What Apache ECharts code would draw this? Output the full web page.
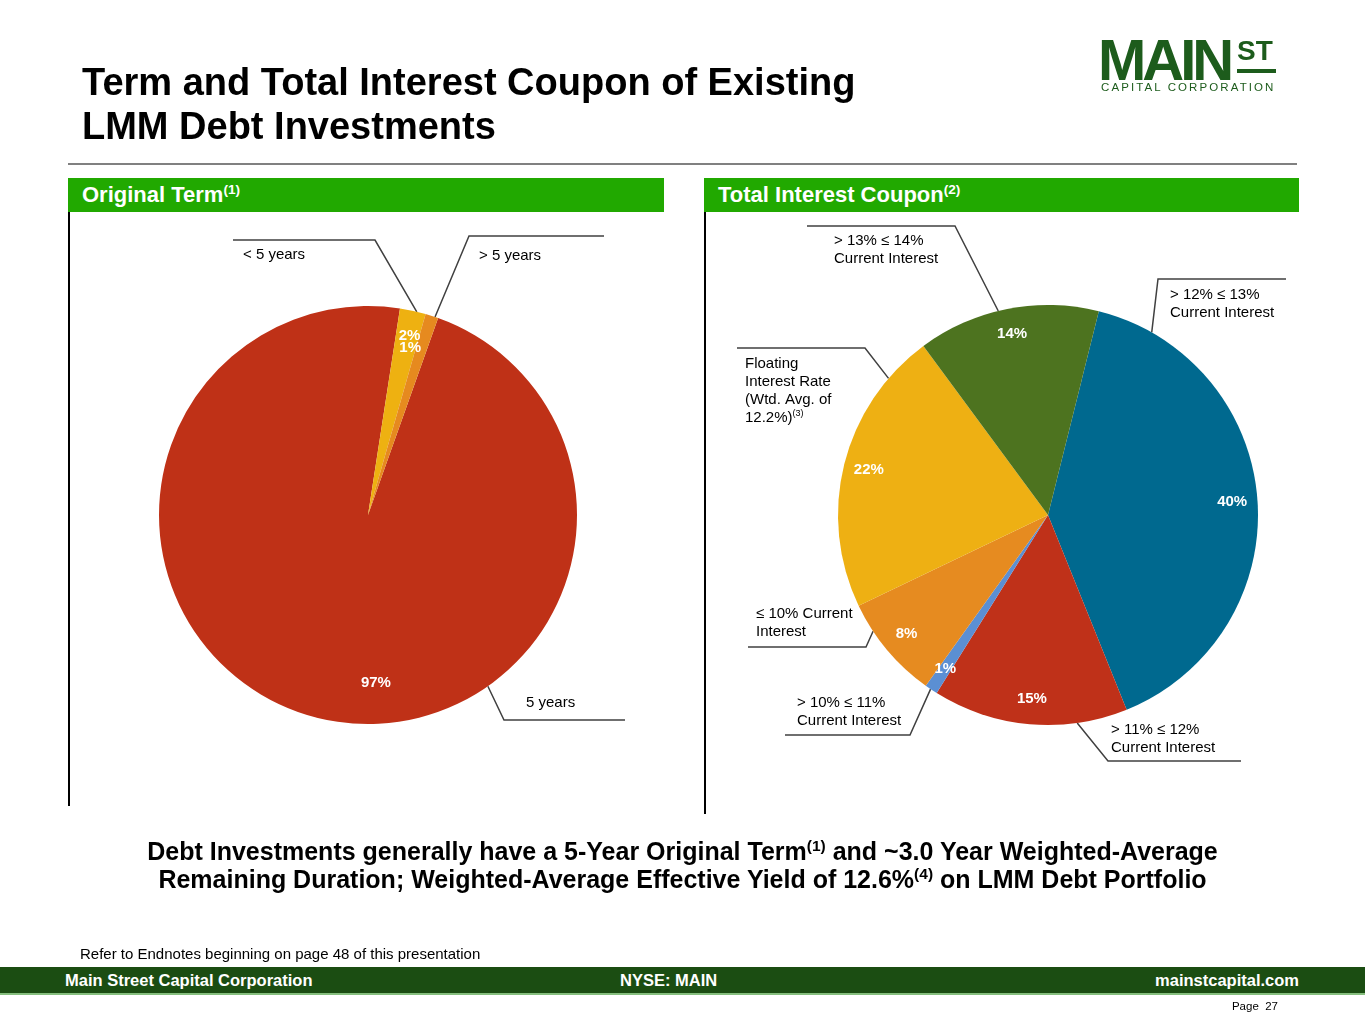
<!DOCTYPE html>
<html>
<head>
<meta charset="utf-8">
<script src="https://cdn.jsdelivr.net/npm/echarts@6/dist/echarts.min.js"></script>
<style>
  body { margin: 0; background: #fff; font-family: 'Liberation Sans', Arial, sans-serif; }
  #page { position: relative; width: 1365px; height: 1024px; overflow: hidden; }
  #chart { position: absolute; left: 0; top: 0; width: 1365px; height: 1024px; }
  .abs { position: absolute; white-space: nowrap; }
  sup { font-size: 62%; line-height: 0; vertical-align: 0.6em; }
  .title { left: 82px; top: 60px; font-size: 38px; line-height: 44px; font-weight: bold; color: #000; }
  .rule { left: 68px; top: 163px; width: 1229px; height: 2px; background: #808080; }
  .bar { top: 178px; height: 34px; background: #21a900; color: #fff; font-weight: bold; font-size: 22px;
         line-height: 34px; padding-left: 14px; box-sizing: border-box; }
  .vline { width: 2px; background: #000; top: 212px; }
  .summary { left: 0; width: 1365px; top: 837px; text-align: center; font-size: 25px; line-height: 28px;
             font-weight: bold; color: #000; }
  .note { left: 80px; top: 945px; font-size: 15px; line-height: 18px; color: #000; }
  .footer { left: 0; top: 967px; width: 1365px; height: 26px; background: #1b4d12; border-bottom: 2px solid #86bf7e; }
  .foot { top: 971px; font-size: 16.5px; line-height: 18px; font-weight: bold; color: #fff; }
  .page { right: 87px; top: 998px; font-size: 11.5px; line-height: 16px; color: #000; }
  .logo { color: #1d5c1c; font-weight: bold; }
</style>
</head>
<body>
<div id="page">
  <div id="chart"></div>

  <div class="abs title">Term and Total Interest Coupon of Existing<br>LMM Debt Investments</div>
  <div class="abs logo" style="left:1098px; top:28px; font-size:58px; line-height:64px; letter-spacing:-4px;">MAIN</div>
  <div class="abs logo" style="left:1237px; top:36px; font-size:28px; line-height:30px;">ST</div>
  <div class="abs" style="left:1237px; top:69px; width:39px; height:4px; background:#1d5c1c;"></div>
  <div class="abs logo" style="left:1101px; top:80px; font-size:11.5px; line-height:14px; font-weight:normal; letter-spacing:2.1px;">CAPITAL CORPORATION</div>
  <div class="abs rule"></div>

  <div class="abs bar" style="left:68px; width:596px;">Original Term<sup>(1)</sup></div>
  <div class="abs bar" style="left:704px; width:595px;">Total Interest Coupon<sup>(2)</sup></div>
  <div class="abs vline" style="left:68px; height:594px;"></div>
  <div class="abs vline" style="left:704px; height:602px;"></div>

  <div class="abs summary">Debt Investments generally have a 5-Year Original Term<sup>(1)</sup> and ~3.0 Year Weighted-Average<br>Remaining Duration; Weighted-Average Effective Yield of 12.6%<sup>(4)</sup> on LMM Debt Portfolio</div>

  <div class="abs note">Refer to Endnotes beginning on page 48 of this presentation</div>
  <div class="abs footer"></div>
  <div class="abs foot" style="left:65px;">Main Street Capital Corporation</div>
  <div class="abs foot" style="left:620px;">NYSE: MAIN</div>
  <div class="abs foot" style="right:66px;">mainstcapital.com</div>
  <div class="abs page">Page&nbsp; 27</div>
</div>

<script>
// original term
var termNames = ['5 years', '< 5 years', '> 5 years']
var termValues = [97, 2, 1]
var termColors = ['#bf3117', '#eeb111', '#e68a1f']

// total interest coupon
var couponNames = [
  '> 12% ≤ 13%\nCurrent Interest',
  '> 11% ≤ 12%\nCurrent Interest',
  '> 10% ≤ 11%\nCurrent Interest',
  '≤ 10% Current\nInterest',
  'Floating\nInterest Rate\n(Wtd. Avg. of\n12.2%)',
  '> 13% ≤ 14%\nCurrent Interest'
]
var couponNotes = ['', '', '', '', '(3)', '']
var couponValues = [40, 15, 1, 8, 22, 14]
var couponColors = ['#00698f', '#bf3119', '#5b8fd3', '#e68b20', '#eeb013', '#4d731f']

// layout of the two pies (pixels)
var termPie = { cx: 368, cy: 515, r: 209, start: 70.4 }
var couponPie = { cx: 1048, cy: 515, r: 210, start: 76 }

// leader lines: anchor angle on the rim (deg clockwise from top), elbow, end, text position
var termLeaders = [
  { a: 145, elbow: [504, 720], end: [625, 720], text: [526, 694] },
  { a: 13.5, elbow: [375, 240], end: [233, 240], text: [243, 246] },
  { a: 18.7, elbow: [469, 236], end: [604, 236], text: [479, 247] }
]
var couponLeaders = [
  { a: 29.6, elbow: [1158, 279], end: [1286, 279], text: [1170, 286] },
  { a: 172, elbow: [1108, 761], end: [1241, 761], text: [1111, 721] },
  { a: 214, elbow: [910, 735], end: [785, 735], text: [797, 694] },
  { a: 236.4, elbow: [866, 647], end: [748, 647], text: [756, 605] },
  { a: 310.6, elbow: [865, 348], end: [737, 348], text: [745, 355] },
  { a: 346.3, elbow: [955, 226], end: [807, 226], text: [834, 232] }
]
// nudges for the percentage labels on the term pie
var termPctShift = [[53, -10], [2, 0], [-14, 8]]

function rimPoint(pie, deg) {
  var t = deg * Math.PI / 180
  return [pie.cx + pie.r * Math.sin(t), pie.cy - pie.r * Math.cos(t)]
}

function leaderLayout(pie, leaders) {
  return function (params) {
    var l = leaders[params.dataIndex]
    return {
      x: l.text[0],
      y: l.text[1],
      align: 'left',
      verticalAlign: 'top',
      labelLinePoints: [rimPoint(pie, l.a), l.elbow, l.end]
    }
  }
}

function basePie(pie, names, values, colors, leaders, notes) {
  return {
    type: 'pie',
    center: [pie.cx, pie.cy],
    radius: [0, pie.r],
    startAngle: pie.start,
    clockwise: true,
    avoidLabelOverlap: false,
    silent: true,
    itemStyle: { borderWidth: 0 },
    label: {
      show: true,
      position: 'outside',
      color: '#000',
      fontSize: 15,
      lineHeight: 18,
      fontFamily: 'Liberation Sans, Arial, sans-serif',
      formatter: function (p) {
        var n = notes ? notes[p.dataIndex] : ''
        return n ? p.name + '{sup|' + n + '}' : p.name
      },
      rich: {
        sup: { fontSize: 9, lineHeight: 18, verticalAlign: 'top', color: '#000', padding: [0, 0, 6, 0] }
      }
    },
    labelLine: { show: true, lineStyle: { color: '#404040', width: 1.5 } },
    labelLayout: leaderLayout(pie, leaders),
    data: values.map(function (v, i) {
      return { name: names[i], value: v, itemStyle: { color: colors[i] } }
    })
  }
}

function pctRing(pie, values, shifts) {
  return {
    type: 'pie',
    center: [pie.cx, pie.cy],
    radius: [pie.r * 0.73, pie.r],
    startAngle: pie.start,
    clockwise: true,
    avoidLabelOverlap: false,
    silent: true,
    z: 3,
    itemStyle: { color: 'rgba(0,0,0,0)', borderWidth: 0 },
    label: {
      show: true,
      position: 'inside',
      color: '#fff',
      fontSize: 15,
      fontWeight: 'bold',
      fontFamily: 'Liberation Sans, Arial, sans-serif',
      formatter: '{c}%'
    },
    labelLine: { show: false },
    labelLayout: shifts ? function (params) {
      var s = shifts[params.dataIndex]
      return { dx: s[0], dy: s[1] }
    } : null,
    data: values.map(function (v) { return { value: v } })
  }
}

var myChart = echarts.init(document.getElementById('chart'))
var option = {
  animation: false,
  series: [
    basePie(termPie, termNames, termValues, termColors, termLeaders, null),
    basePie(couponPie, couponNames, couponValues, couponColors, couponLeaders, couponNotes),
    pctRing(termPie, termValues, termPctShift),
    pctRing(couponPie, couponValues, null)
  ]
}
option && myChart.setOption(option)
</script>
</body>
</html>
